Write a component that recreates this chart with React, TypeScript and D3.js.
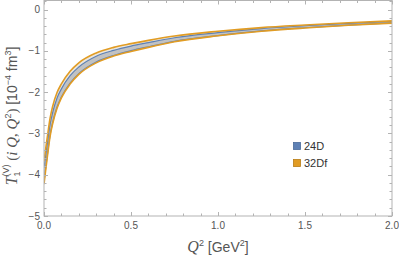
import * as d3 from 'd3'
import { useEffect, useRef } from 'react'

// Q^2 sample points [GeV^2]
const q2 = [0, 0.01, 0.02, 0.035, 0.05, 0.075, 0.1, 0.15, 0.2, 0.3, 0.4, 0.5, 0.6, 0.75, 1.0, 1.25, 1.5, 1.75, 2.0]

// 32Df central values and half widths [10^-4 fm^3]
const df32Center = [-3.95, -3.62, -3.3, -2.85, -2.55, -2.2, -1.97, -1.65, -1.43, -1.17, -1.02, -0.92, -0.83, -0.71, -0.58, -0.48, -0.41, -0.35, -0.3]
const df32Half = [0.28, 0.26, 0.24, 0.22, 0.21, 0.19, 0.17, 0.155, 0.14, 0.12, 0.105, 0.095, 0.085, 0.07, 0.055, 0.044, 0.036, 0.031, 0.027]

// 24D central values and half widths
const d24Center = [-4.0, -3.68, -3.36, -2.91, -2.61, -2.25, -2.02, -1.69, -1.47, -1.2, -1.05, -0.94, -0.85, -0.725, -0.594, -0.488, -0.416, -0.355, -0.303]
const d24Half = [0.17, 0.15, 0.14, 0.13, 0.12, 0.11, 0.1, 0.09, 0.08, 0.07, 0.062, 0.056, 0.05, 0.043, 0.035, 0.029, 0.024, 0.02, 0.017]

const xTicks = [0, 0.5, 1.0, 1.5, 2.0]
const yTicks = [0, -1, -2, -3, -4, -5]
const legendLabels = ['24D', '32Df']

const BLUE = '#5E81B5'
const ORANGE = '#E19C24'
const FRAME = '#b3b3b3'
const TEXT = '#555'

export default function App() {
  const svgRef = useRef<SVGSVGElement>(null)

  useEffect(() => {
    if (!svgRef.current) return
    const svg = d3.select(svgRef.current)
    svg.selectAll('*').remove()

    const x = d3.scaleLinear().domain([0, 2]).range([44, 392])
    const y = d3.scaleLinear().domain([-5, 0.22]).range([216, 0.5])

    const clip = svg.append('defs').append('clipPath').attr('id', 'plotclip')
    clip.append('rect').attr('x', 44).attr('y', 0.5).attr('width', 348).attr('height', 215.5)

    const plot = svg.append('g').attr('clip-path', 'url(#plotclip)')

    const band = (center: number[], half: number[]) =>
      q2.map((q, i) => ({ q, lo: center[i] - half[i], hi: center[i] + half[i] }))

    const series = [
      { data: band(df32Center, df32Half), fill: '#ebe6dc', opacity: 1, stroke: ORANGE, width: 1.6 },
      { data: band(d24Center, d24Half), fill: '#9ea4ae', opacity: 0.55, stroke: BLUE, width: 1.2 },
    ]

    const area = d3
      .area<{ q: number; lo: number; hi: number }>()
      .x(d => x(d.q))
      .y0(d => y(d.lo))
      .y1(d => y(d.hi))
      .curve(d3.curveMonotoneX)

    series.forEach(s => {
      plot.append('path').attr('d', area(s.data)).attr('fill', s.fill).attr('fill-opacity', s.opacity)
    })

    // edges: blue first, orange on top
    ;[series[1], series[0]].forEach(s => {
      ;(['lo', 'hi'] as const).forEach(k => {
        const line = d3
          .line<{ q: number; lo: number; hi: number }>()
          .x(d => x(d.q))
          .y(d => y(d[k]))
          .curve(d3.curveMonotoneX)
        plot
          .append('path')
          .attr('d', line(s.data))
          .attr('fill', 'none')
          .attr('stroke', s.stroke)
          .attr('stroke-width', s.width)
      })
    })

    // Frame
    svg
      .append('rect')
      .attr('x', 44)
      .attr('y', 0.5)
      .attr('width', 348)
      .attr('height', 215.5)
      .attr('fill', 'none')
      .attr('stroke', FRAME)
      .attr('stroke-width', 1)

    const ticks = svg.append('g').attr('stroke', FRAME).attr('stroke-width', 1)

    // x ticks on bottom and top
    d3.range(0, 2.0001, 0.1).forEach((v, i) => {
      const major = i % 5 === 0
      const len = major ? 4 : 2.5
      const px = Math.round(x(v)) + 0.5
      ticks.append('line').attr('x1', px).attr('x2', px).attr('y1', 216).attr('y2', 216 - len)
      ticks.append('line').attr('x1', px).attr('x2', px).attr('y1', 0.5).attr('y2', 0.5 + len)
    })
    // y ticks on left and right
    d3.range(-5, 0.2001, 0.2).forEach((v, i) => {
      const major = i % 5 === 0
      const len = major ? 4 : 2.5
      const py = Math.round(y(v)) + 0.5
      ticks.append('line').attr('y1', py).attr('y2', py).attr('x1', 44).attr('x2', 44 + len)
      ticks.append('line').attr('y1', py).attr('y2', py).attr('x1', 392).attr('x2', 392 - len)
    })

    const font = "'Liberation Sans', Arial, sans-serif"

    svg
      .append('g')
      .selectAll('text')
      .data(xTicks)
      .enter()
      .append('text')
      .attr('x', d => x(d))
      .attr('y', 229)
      .attr('text-anchor', 'middle')
      .style('font-family', font)
      .style('font-size', '10px')
      .attr('fill', TEXT)
      .text(d => d.toFixed(1))

    svg
      .append('g')
      .selectAll('text')
      .data(yTicks)
      .enter()
      .append('text')
      .attr('x', 40)
      .attr('y', d => y(d) + 3.5)
      .attr('text-anchor', 'end')
      .style('font-family', font)
      .style('font-size', '10px')
      .attr('fill', TEXT)
      .text(d => (d === 0 ? '0' : '\u2212' + Math.abs(d)))

    // Legend
    const legend = svg.append('g')
    legendLabels.forEach((lab, i) => {
      const ly = 142 + i * 17
      legend
        .append('rect')
        .attr('x', 293.5)
        .attr('y', ly + 0.5)
        .attr('width', 7)
        .attr('height', 7)
        .attr('fill', i === 0 ? BLUE : ORANGE)
        .attr('stroke', i === 0 ? '#4a6a99' : '#b87d16')
        .attr('stroke-width', 0.8)
      legend
        .append('text')
        .attr('x', 304)
        .attr('y', ly + 8)
        .style('font-family', font)
        .style('font-size', '11px')
        .attr('fill', '#333')
        .text(lab)
    })
  }, [])

  const serif = "'Liberation Serif', 'DejaVu Serif', serif"
  const sans = "'Liberation Sans', Arial, sans-serif"

  return (
    <div style={{ position: 'absolute', left: 0, top: 0 }}>
      <svg ref={svgRef} width={399} height={261} style={{ display: 'block' }} />
      <svg width={399} height={261} style={{ position: 'absolute', left: 0, top: 0 }}>
        {/* y axis label */}
        <text
          transform="translate(17,116) rotate(-90)"
          textAnchor="middle"
          fill={TEXT}
          style={{ fontFamily: sans, fontSize: '14px' }}
        >
          <tspan style={{ fontFamily: serif, fontStyle: 'italic', fontSize: '16px' }}>T</tspan>
          <tspan dy={3} style={{ fontSize: '9px' }}>1</tspan>
          <tspan dx={-5} dy={-11} style={{ fontSize: '9px' }}>(V)</tspan>
          <tspan dy={8} style={{ fontFamily: serif, fontSize: '15px' }}> (</tspan>
          <tspan style={{ fontFamily: serif, fontStyle: 'italic', fontSize: '15px' }}>i Q</tspan>
          <tspan style={{ fontFamily: serif, fontSize: '15px' }}>, </tspan>
          <tspan style={{ fontFamily: serif, fontStyle: 'italic', fontSize: '15px' }}>Q</tspan>
          <tspan dy={-6} style={{ fontSize: '9px' }}>2</tspan>
          <tspan dy={6} style={{ fontFamily: serif, fontSize: '15px' }}>) </tspan>
          <tspan>[10</tspan>
          <tspan dy={-6} style={{ fontSize: '9px' }}>{'\u22124'}</tspan>
          <tspan dy={6}> fm</tspan>
          <tspan dy={-6} style={{ fontSize: '9px' }}>3</tspan>
          <tspan dy={6}>]</tspan>
        </text>
        {/* x axis label */}
        <text x={218} y={252} textAnchor="middle" fill={TEXT} style={{ fontFamily: sans, fontSize: '14px' }}>
          <tspan style={{ fontFamily: serif, fontStyle: 'italic', fontSize: '16px' }}>Q</tspan>
          <tspan dy={-6} style={{ fontSize: '9px' }}>2</tspan>
          <tspan dy={6}> [GeV</tspan>
          <tspan dy={-6} style={{ fontSize: '9px' }}>2</tspan>
          <tspan dy={6}>]</tspan>
        </text>
      </svg>
    </div>
  )
}
